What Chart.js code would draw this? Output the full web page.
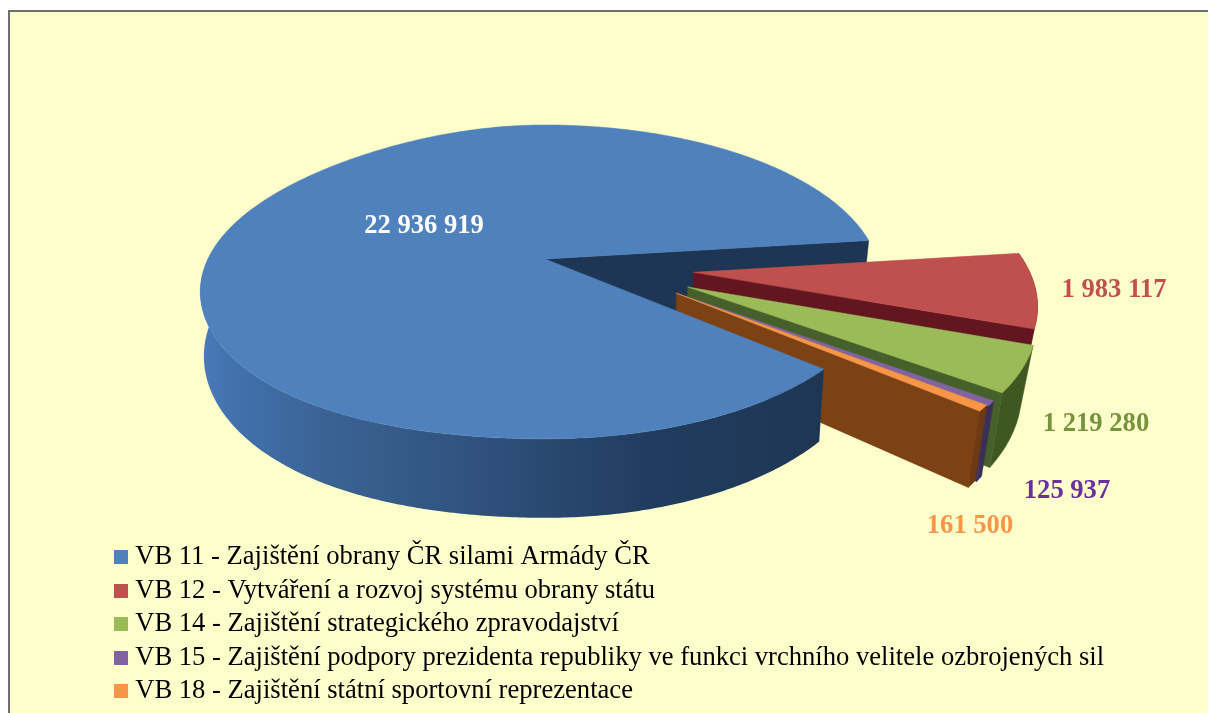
<!DOCTYPE html>
<html><head><meta charset="utf-8">
<style>html,body{margin:0;padding:0;background:#fff}canvas{display:block}</style>
<script src="https://cdn.jsdelivr.net/npm/chart.js@4"></script>
</head><body><canvas id="c" width="1208" height="713"></canvas>
<script>
const categories = [
  'VB 11 - Zajištění obrany ČR silami Armády ČR',
  'VB 12 - Vytváření a rozvoj systému obrany státu',
  'VB 14 - Zajištění strategického zpravodajství',
  'VB 15 - Zajištění podpory prezidenta republiky ve funkci vrchního velitele ozbrojených sil',
  'VB 18 - Zajištění státní sportovní reprezentace'
];
const values = [22936919, 1983117, 1219280, 125937, 161500];
const valueLabels = ['22 936 919', '1 983 117', '1 219 280', '125 937', '161 500'];
const topColors = ['#4F81BD', '#C0504D', '#9BBB59', '#8064A2', '#F79646'];
const labelColors = ['#FFFFFF', '#C0504D', '#76923C', '#6A2FA0', '#F79646'];
const cutWallColors = ['#1E3653', '#641620', '#45602A', '#3F2F5C', '#7C4213'];
const rimWallColors = ['#1E3653', '#641620', '#3F5822', '#3A2F55', '#6E3A12'];
const explode = [0, 0.45, 0.455, 0.445, 0.44];
const explodeShiftDeg = [0, 4.5, -5.3, -8, -10];
const labelCentres = [[424, 226], [1114, 290], [1096, 424], [1067, 491], [970, 526]];

// perspective view of the pie
const view = {cx: 545, cy: 259, rxL: 341, rxR: 332, ry: 153.6, q: 0.146, depth: 62.3, taperL: 0.00003, taperR: 0.00006, sag: 10};
function proj(u, v, low) {
  const D = 1 - view.q * v;
  let X = (u < 0 ? view.rxL : view.rxR) * u / D;
  let Y = view.ry * v / D;
  if (u < 0) { const s = Math.sin(Math.min(1, -u) * Math.PI / 2); Y += view.sag * s * s; }
  if (low) { Y += view.depth / Math.pow(D, 1.5); X -= Math.sign(X) * (u < 0 ? view.taperL : view.taperR) * X * X; }
  return [view.cx + X, view.cy + Y];
}
function arcPts(o, a0, a1, low) {
  const n = Math.max(2, Math.ceil(Math.abs(a1 - a0) / 0.01)), pts = [];
  for (let i = 0; i <= n; i++) {
    const a = a0 + (a1 - a0) * i / n;
    pts.push(proj(o[0] + Math.cos(a), o[1] + Math.sin(a), low));
  }
  return pts;
}
function fillPoly(ctx, pts, fill) {
  ctx.beginPath();
  pts.forEach((p, i) => i ? ctx.lineTo(p[0], p[1]) : ctx.moveTo(p[0], p[1]));
  ctx.closePath(); ctx.fillStyle = fill; ctx.fill();
  ctx.strokeStyle = typeof fill === 'string' ? fill : 'transparent'; ctx.lineWidth = 0.5; ctx.stroke();
}
function legendSwatch(color) {
  const s = document.createElement('canvas'); s.width = 14; s.height = 14;
  const x = s.getContext('2d'); x.fillStyle = color; x.fillRect(0, 0, 14, 14);
  return s;
}
const pie3d = {
  id: 'pie3d',
  beforeDraw(chart) {
    const ctx = chart.ctx; ctx.save();
    ctx.fillStyle = '#FFFFCC'; ctx.fillRect(9, 11, chart.width - 9, chart.height - 11);
    ctx.strokeStyle = '#6E6E6E'; ctx.lineWidth = 2;
    ctx.beginPath(); ctx.moveTo(9, chart.height); ctx.lineTo(9, 11); ctx.lineTo(chart.width, 11); ctx.stroke();
    ctx.restore();
  },
  afterLayout(chart) {
    const l = chart.legend;
    l.left = 114; l.top = 537; l.right = chart.width; l.bottom = chart.height + 200;
  },
  beforeDatasetDraw(chart, args) {
    const ctx = chart.ctx, arcs = args.meta.data;
    const g = arcs.map((el, i) => {
      const p = el.getProps(['startAngle', 'endAngle']);
      const mid = (p.startAngle + p.endAngle) / 2 + explodeShiftDeg[i] * Math.PI / 180;
      return {a0: p.startAngle, a1: p.endAngle, o: [explode[i] * Math.cos(mid), explode[i] * Math.sin(mid)]};
    });
    ctx.save();
    // far cut wall of the main slice, seen through the gap
    const b = g[0], endA = b.a1;
    fillPoly(ctx, [proj(0, 0), proj(Math.cos(endA), Math.sin(endA)), proj(Math.cos(endA), Math.sin(endA), true), proj(0, 0, true)], cutWallColors[0]);
    // exploded slices, back to front
    for (let i = 1; i < g.length; i++) {
      const s = g[i], o = s.o;
      const cEnd = [o[0] + Math.cos(s.a1), o[1] + Math.sin(s.a1)];
      fillPoly(ctx, arcPts(o, s.a0, s.a1, false).concat(arcPts(o, s.a1, s.a0, true)), rimWallColors[i]);
      fillPoly(ctx, [proj(o[0], o[1]), proj(cEnd[0], cEnd[1]), proj(cEnd[0], cEnd[1], true), proj(o[0], o[1], true)], cutWallColors[i]);
      fillPoly(ctx, [proj(o[0], o[1])].concat(arcPts(o, s.a0, s.a1, false)), topColors[i]);
    }
    // main slice: outer wall then top
    const wallEnd = 205 * Math.PI / 180;
    const grad = ctx.createLinearGradient(200, 0, 840, 0);
    grad.addColorStop(0, '#4A7BB9'); grad.addColorStop(0.06, '#4170AB');
    grad.addColorStop(0.2, '#3A6394'); grad.addColorStop(0.45, '#2F507B');
    grad.addColorStop(0.7, '#213C5F'); grad.addColorStop(1, '#1E3653');
    fillPoly(ctx, arcPts(b.o, b.a0, wallEnd, false).concat(arcPts(b.o, wallEnd, b.a0, true)), grad);
    fillPoly(ctx, [proj(0, 0)].concat(arcPts(b.o, b.a0, b.a1, false)), topColors[0]);
    // value labels
    ctx.font = 'bold 26.6px "Liberation Serif"'; ctx.textAlign = 'center'; ctx.textBaseline = 'middle';
    valueLabels.forEach((t, i) => { ctx.fillStyle = labelColors[i]; ctx.fillText(t, labelCentres[i][0], labelCentres[i][1]); });
    ctx.restore();
    return false;
  }
};
new Chart(document.getElementById('c'), {
  type: 'pie',
  data: {labels: categories, datasets: [{data: values, backgroundColor: topColors, borderWidth: 0}]},
  options: {
    responsive: false, animation: false, rotation: 130.5,
    layout: {padding: 0},
    plugins: {
      tooltip: {enabled: false},
      legend: {
        position: 'left', align: 'start',
        labels: {
          usePointStyle: true, pointStyleWidth: 1, boxHeight: 1, padding: 6.9, color: '#111111',
          font: {family: '"Liberation Serif"', size: 26.6},
          generateLabels: (chart) => categories.map((t, i) => ({text: t, fillStyle: topColors[i], strokeStyle: topColors[i], lineWidth: 0, pointStyle: legendSwatch(topColors[i]), index: i}))
        }
      }
    }
  },
  plugins: [pie3d]
});
</script></body></html>
